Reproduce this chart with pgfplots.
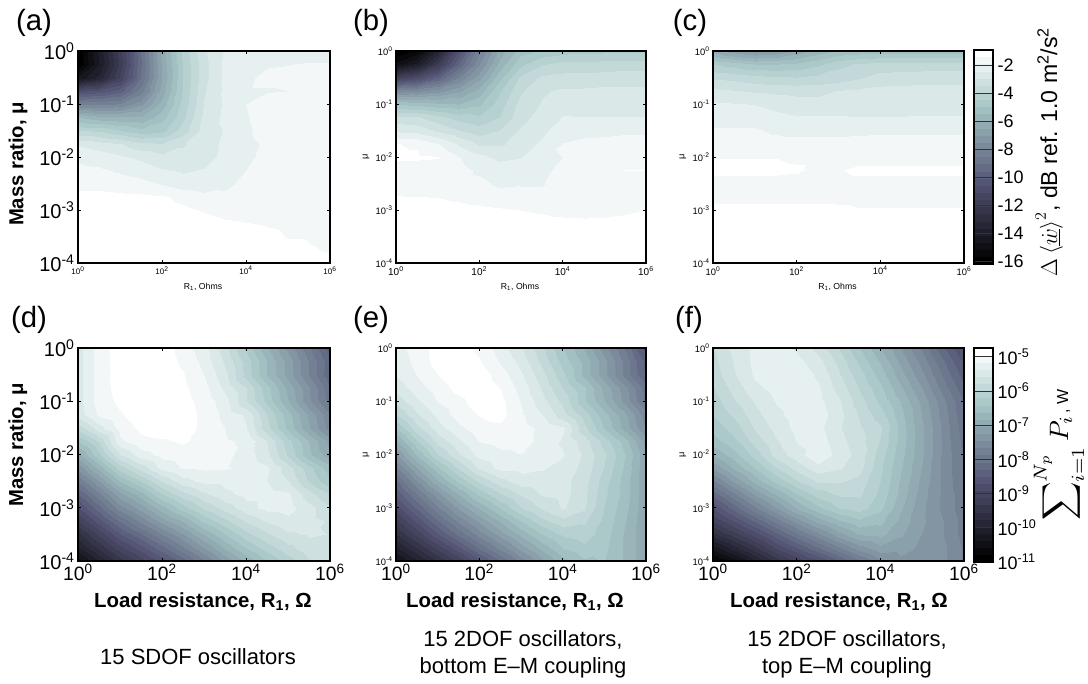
\documentclass[border=0pt]{standalone}
\usepackage{fontspec}
\setmainfont{Liberation Sans}
\usepackage{pgfplots}
\pgfplotsset{compat=1.18}
\pgfplotsset{
  colormap={bone0}{rgb(0cm)=(0,0,0); rgb(3.65cm)=(.3194,.3194,.4444); rgb(7.46cm)=(.6528,.7778,.7778); rgb(10cm)=(1,1,1)},
  colormap={bone30}{samples of colormap={30 of bone0}},
}
\newcommand\fs[1]{\fontsize{#1}{#1}\selectfont}
\newcommand\tp[1]{10\textsuperscript{#1}}
\newcommand\mkcoords[1]{%
  \gdef\mycoords{}%
  \foreach \r [count=\j from 0] in {#1} {%
    \foreach \v [count=\i from 0] in \r {%
      \pgfmathsetmacro\xx{(\i-1+1)*0.5}\pgfmathsetmacro\yy{-(\j)*0.25}%
      \xdef\mycoords{\mycoords (\xx,\yy) [\v]}%
    }%
  }%
}
\newcommand\drawfield{\edef\tmp{\noexpand\addplot[surf,shader=interp,mesh/rows=17,mesh/cols=13,point meta=explicit] coordinates {\mycoords};}\tmp}
\pgfplotsset{
  panel/.style={
    scale only axis, anchor=south west, colormap name=bone30,
    colormap access=piecewise constant,
    xmin=0,xmax=6,ymin=-4,ymax=0,
    xtick={0,2,4,6}, xticklabels={\tp{0},\tp{2},\tp{4},\tp{6}},
    ytick={-4,-3,-2,-1,0}, yticklabels={\tp{-4},\tp{-3},\tp{-2},\tp{-1},\tp{0}},
    tick align=inside, major tick length=2pt, tick style={black,line width=.5pt},
    axis line style={line width=.9pt}, axis on top,
    every x tick label/.append style={yshift=1pt},
    every y tick label/.append style={xshift=1pt},
  },
  dbp/.style={panel,point meta min=-16.2,point meta max=-0.9},
  pwr/.style={panel,point meta min=-11,point meta max=-4.74},
  cbar/.style={
    scale only axis, anchor=south west, colormap name=bone30, colormap access=piecewise constant,
    xmin=0,xmax=1,xtick=\empty, yticklabel pos=right, axis on top,
    tick align=inside, major tick length=0pt, ymajorgrids, grid style={black!80,line width=.7pt},
    axis line style={line width=.9pt},
    every y tick label/.append style={font=\fs{13.5}},
  },
}
\newcommand\ly[3]{ylabel={#1},ylabel style={at={(axis description cs:#2,#3)},anchor=center}}
\begin{document}
\begin{tikzpicture}
\path[use as bounding box] (0,0) rectangle (816pt,512.25pt);

\mkcoords{
{-16.2,-14,-11.8,-9,-6.3,-4.3,-3,-2.35,-2.1,-2.1,-2.05,-2.05,-2.05},
{-16.2,-14.2,-12,-9.1,-6.4,-4.4,-3.1,-2.3,-2,-1.95,-1.93,-1.9,-1.9},
{-14.5,-13.5,-11.5,-9,-6.5,-4.4,-3.1,-2.3,-1.97,-1.85,-1.85,-1.85,-1.85},
{-10.7,-10.4,-9.8,-8.3,-6.3,-4.4,-3,-2.3,-1.95,-1.95,-1.92,-1.75,-1.7},
{-8.2,-8.2,-8,-7.2,-5.8,-4.3,-2.9,-2.35,-1.92,-1.7,-1.6,-1.55,-1.5},
{-5.5,-5.9,-6,-6,-5.2,-4.1,-2.8,-2.3,-1.95,-1.7,-1.6,-1.55,-1.5},
{-3.9,-4,-4.4,-4.8,-4.6,-3.7,-2.7,-2.4,-2,-1.7,-1.6,-1.55,-1.5},
{-2.5,-2.7,-2.9,-3.3,-3.4,-3,-2.6,-2.35,-2.05,-1.85,-1.7,-1.6,-1.55},
{-2,-2.15,-2.35,-2.55,-2.8,-2.75,-2.6,-2.3,-2,-1.8,-1.65,-1.6,-1.55},
{-1.8,-1.85,-2,-2.15,-2.4,-2.5,-2.4,-2.15,-1.92,-1.7,-1.6,-1.55,-1.5},
{-1.55,-1.55,-1.65,-1.75,-1.95,-2.2,-2.25,-2.05,-1.75,-1.65,-1.6,-1.55,-1.5},
{-1.25,-1.25,-1.27,-1.3,-1.33,-1.55,-1.75,-1.8,-1.7,-1.6,-1.55,-1.5,-1.5},
{-1.1,-1.1,-1.1,-1.15,-1.2,-1.3,-1.45,-1.55,-1.6,-1.55,-1.55,-1.5,-1.5},
{-1,-1,-1,-1,-1.05,-1.1,-1.25,-1.35,-1.4,-1.45,-1.5,-1.5,-1.5},
{-1,-1,-1,-1,-1,-1,-1,-1.1,-1.2,-1.3,-1.43,-1.45,-1.5},
{-1,-1,-1,-1,-1,-1,-1,-1,-1,-1.1,-1.2,-1.37,-1.45},
{-1,-1,-1,-1,-1,-1,-1,-1,-1,-1,-1,-1.2,-1.38}}
\begin{axis}[dbp,at={(58.5pt,315pt)},width=189pt,height=159pt,
  x tick label style={font=\fs{6}}, y tick label style={font=\fs{15}},
  xlabel={R\textsubscript{1}, Ohms}, xlabel style={font=\fs{6.5},at={(axis description cs:.496,-.113)},anchor=center},
  \ly{Mass ratio, μ}{-.238}{.467}, ylabel style={font=\fs{15.2}\bfseries}]
\drawfield
\end{axis}

\mkcoords{
{-16.2,-15.5,-13.5,-10.5,-8.2,-6.3,-5.2,-4.9,-4.7,-4.6,-4.6,-4.6,-4.6},
{-15,-14,-12,-9.5,-7.6,-5.8,-4.6,-4,-3.8,-3.8,-3.75,-3.7,-3.7},
{-11.5,-10.8,-9.6,-8,-6.7,-5.1,-3.8,-3.35,-3.25,-3.25,-3.2,-3.2,-3.2},
{-7.8,-7.6,-7.2,-6.6,-5.8,-4.5,-3.5,-3,-2.85,-2.85,-2.8,-2.8,-2.8},
{-5,-5.2,-5.4,-5.5,-5.1,-4.2,-3.25,-2.9,-2.7,-2.7,-2.7,-2.7,-2.7},
{-3.3,-3.4,-3.8,-4.2,-4.4,-3.95,-3.1,-2.75,-2.4,-2.42,-2.42,-2.42,-2.43},
{-2.5,-2.6,-3,-3.4,-3.7,-3.4,-2.85,-2.55,-2.1,-2.05,-2.05,-2,-2},
{-1.4,-1.45,-1.9,-2.5,-3,-3,-2.75,-2.3,-1.9,-1.8,-1.75,-1.7,-1.7},
{-1.35,-1.35,-1.38,-1.9,-2.3,-2.55,-2.45,-1.95,-1.92,-1.65,-1.65,-1.6,-1.6},
{-1.6,-1.6,-1.65,-1.75,-2,-2.2,-2.2,-2.1,-1.7,-1.55,-1.5,-1.4,-1.4},
{-1.7,-1.7,-1.7,-1.75,-1.8,-2,-1.95,-1.95,-1.75,-1.7,-1.65,-1.6,-1.6},
{-1.38,-1.4,-1.42,-1.5,-1.6,-1.7,-1.8,-1.75,-1.7,-1.7,-1.7,-1.7,-1.7},
{-1.2,-1.2,-1.22,-1.25,-1.3,-1.35,-1.42,-1.5,-1.6,-1.6,-1.55,-1.5,-1.41},
{-1.05,-1.05,-1.05,-1.05,-1.05,-1.1,-1.15,-1.2,-1.25,-1.3,-1.3,-1.25,-1.2},
{-1,-1,-1,-1,-1,-1,-1,-1,-1,-1,-1,-1,-1},
{-1,-1,-1,-1,-1,-1,-1,-1,-1,-1,-1,-1,-1},
{-1,-1,-1,-1,-1,-1,-1,-1,-1,-1,-1,-1,-1}}
\begin{axis}[dbp,at={(297pt,315pt)},width=187.5pt,height=159pt,
  x tick label style={font=\fs{7.5}}, y tick label style={font=\fs{7}},
  xlabel={R\textsubscript{1}, Ohms}, xlabel style={font=\fs{6.5},at={(axis description cs:.496,-.113)},anchor=center},
  \ly{μ}{-.12}{.5}, ylabel style={font=\fs{7}}]
\drawfield
\end{axis}

\mkcoords{
{-6.2,-6.8,-7.2,-7,-6.4,-5.8,-5.4,-5.3,-5.2,-5.2,-5.2,-5.2,-5.2},
{-4.5,-4.7,-5,-5,-4.9,-4.6,-4.1,-3.9,-3.8,-3.8,-3.8,-3.8,-3.8},
{-3.5,-3.6,-3.75,-3.85,-3.9,-3.8,-3.7,-3.5,-3.2,-3.15,-3.1,-3.1,-3.1},
{-2.8,-2.9,-3,-3.05,-3.1,-3.1,-2.9,-2.85,-2.8,-2.8,-2.8,-2.8,-2.8},
{-2.35,-2.4,-2.45,-2.6,-2.7,-2.72,-2.72,-2.7,-2.65,-2.6,-2.6,-2.6,-2.6},
{-2.1,-2.1,-2.15,-2.3,-2.4,-2.4,-2.4,-2.42,-2.42,-2.42,-2.4,-2.4,-2.4},
{-1.85,-1.85,-1.85,-2,-2.1,-2.1,-2.1,-2.05,-2,-2,-2,-2,-2},
{-1.7,-1.7,-1.7,-1.7,-1.7,-1.7,-1.7,-1.7,-1.7,-1.7,-1.7,-1.7,-1.7},
{-1.42,-1.42,-1.42,-1.42,-1.5,-1.5,-1.5,-1.6,-1.6,-1.6,-1.6,-1.6,-1.6},
{-1.3,-1.3,-1.3,-1.3,-1.35,-1.55,-1.45,-1.3,-1.3,-1.3,-1.3,-1.3,-1.3},
{-1.6,-1.6,-1.6,-1.6,-1.6,-1.6,-1.6,-1.6,-1.6,-1.6,-1.6,-1.6,-1.6},
{-1.55,-1.55,-1.55,-1.55,-1.55,-1.55,-1.55,-1.55,-1.55,-1.55,-1.55,-1.55,-1.55},
{-1.25,-1.25,-1.25,-1.25,-1.25,-1.25,-1.3,-1.38,-1.38,-1.38,-1.38,-1.38,-1.38},
{-1,-1,-1,-1,-1,-1,-1,-1,-1,-1,-1,-1,-1},
{-1,-1,-1,-1,-1,-1,-1,-1,-1,-1,-1,-1,-1},
{-1,-1,-1,-1,-1,-1,-1,-1,-1,-1,-1,-1,-1},
{-1,-1,-1,-1,-1,-1,-1,-1,-1,-1,-1,-1,-1}}
\begin{axis}[dbp,at={(534.75pt,315pt)},width=188.25pt,height=159pt,
  x tick label style={font=\fs{7}}, y tick label style={font=\fs{7}},
  xlabel={R\textsubscript{1}, Ohms}, xlabel style={font=\fs{6.5},at={(axis description cs:.496,-.113)},anchor=center},
  \ly{μ}{-.12}{.5}, ylabel style={font=\fs{7}}]
\drawfield
\end{axis}

\mkcoords{
{-5.45,-5.05,-4.85,-4.8,-4.8,-5.05,-5.28,-5.7,-6.25,-6.8,-7.3,-7.85,-8.4},
{-5.45,-5.05,-4.85,-4.8,-4.8,-5,-5.23,-5.62,-6.08,-6.63,-7.13,-7.68,-8.23},
{-5.45,-5.05,-4.85,-4.8,-4.8,-4.93,-5.16,-5.52,-6.07,-6.62,-7.12,-7.67,-8.27},
{-5.45,-5.05,-4.87,-4.8,-4.8,-4.9,-5.08,-5.42,-5.78,-6.33,-6.88,-7.43,-8.03},
{-5.45,-5.06,-4.9,-4.8,-4.8,-4.87,-5.03,-5.28,-5.77,-6.27,-6.82,-7.42,-7.97},
{-5.48,-5.12,-4.97,-4.82,-4.8,-4.85,-5,-5.22,-5.4,-5.98,-6.53,-7.08,-7.63},
{-5.9,-5.45,-5.08,-4.9,-4.85,-4.85,-5,-5.16,-5.35,-5.92,-6.47,-7.02,-7.57},
{-6.4,-5.95,-5.2,-5,-4.97,-4.92,-5.02,-5.13,-5.2,-5.58,-6.13,-6.63,-7.13},
{-6.9,-6.25,-5.6,-5.25,-5.1,-5.05,-5.07,-5.1,-5.25,-5.52,-6.02,-6.57,-6.97},
{-7.4,-6.75,-6.1,-5.7,-5.3,-5.14,-5.13,-5.14,-5.2,-5.33,-5.68,-6.13,-6.53},
{-7.85,-7.25,-6.6,-6.2,-5.75,-5.45,-5.3,-5.3,-5.22,-5.37,-5.57,-6.02,-6.37},
{-8.3,-7.7,-7.1,-6.7,-6.2,-5.85,-5.6,-5.42,-5.3,-5.28,-5.32,-5.7,-6},
{-8.75,-8.15,-7.55,-7.15,-6.7,-6.3,-5.95,-5.7,-5.45,-5.3,-5.28,-5.5,-5.75},
{-9.15,-8.6,-8.05,-7.6,-7.15,-6.8,-6.35,-6.05,-5.75,-5.55,-5.42,-5.5,-5.6},
{-9.6,-9.05,-8.5,-8.1,-7.65,-7.25,-6.8,-6.4,-6.05,-5.8,-5.6,-5.55,-5.58},
{-10,-9.5,-9,-8.6,-8.15,-7.7,-7.25,-6.8,-6.4,-6.1,-5.85,-5.65,-5.6},
{-10.5,-9.95,-9.45,-9.05,-8.65,-8.2,-7.7,-7.2,-6.8,-6.4,-6.1,-5.8,-5.65}}
\begin{axis}[pwr,at={(58.5pt,91.5pt)},width=189pt,height=159.75pt,
  x tick label style={font=\fs{14.5}}, y tick label style={font=\fs{15}},
  xlabel={Load resistance, R\textsubscript{1}, Ω}, xlabel style={font=\fs{15.3}\bfseries,at={(axis description cs:.496,-.19)},anchor=center},
  \ly{Mass ratio, μ}{-.239}{.545}, ylabel style={font=\fs{15.2}\bfseries}]
\drawfield
\end{axis}

\mkcoords{
{-5.25,-5.05,-4.85,-4.85,-5,-5.25,-5.55,-5.95,-6.4,-6.85,-7.35,-7.9,-8.6},
{-5.3,-5.08,-4.85,-4.8,-4.93,-5.18,-5.45,-5.85,-6.3,-6.68,-7.18,-7.73,-8.38},
{-5.35,-5.15,-4.95,-4.8,-4.82,-5.05,-5.33,-5.7,-6.15,-6.67,-7.17,-7.72,-8.32},
{-5.5,-5.25,-5.05,-4.87,-4.8,-4.95,-5.24,-5.6,-6,-6.38,-6.88,-7.38,-7.98},
{-5.7,-5.4,-5.14,-5,-4.85,-4.88,-5.17,-5.5,-5.85,-6.37,-6.82,-7.32,-7.92},
{-6,-5.6,-5.3,-5.06,-4.94,-4.87,-5.12,-5.35,-5.7,-6.08,-6.53,-6.98,-7.58},
{-6.4,-5.85,-5.45,-5.2,-5.03,-5,-5.08,-5.2,-5.33,-5.92,-6.42,-6.92,-7.47},
{-6.85,-6.2,-5.7,-5.4,-5.15,-5.1,-5.1,-5.2,-5.4,-5.68,-6.08,-6.53,-7.13},
{-7.3,-6.6,-6,-5.6,-5.3,-5.2,-5.16,-5.25,-5.35,-5.6,-5.95,-6.4,-7},
{-7.7,-7.05,-6.45,-5.95,-5.55,-5.3,-5.3,-5.35,-5.43,-5.65,-6,-6.45,-7},
{-8.1,-7.45,-6.85,-6.35,-5.95,-5.65,-5.45,-5.42,-5.5,-5.7,-6.1,-6.5,-7},
{-8.45,-7.85,-7.3,-6.8,-6.35,-6,-5.75,-5.55,-5.5,-5.72,-6.15,-6.5,-7},
{-8.8,-8.25,-7.7,-7.2,-6.8,-6.4,-6,-5.75,-5.55,-5.75,-6.2,-6.55,-7},
{-9.2,-8.65,-8.1,-7.6,-7.2,-6.8,-6.4,-6.05,-5.85,-5.95,-6.25,-6.6,-7},
{-9.55,-9.05,-8.5,-8,-7.55,-7.15,-6.75,-6.4,-6.15,-6.1,-6.3,-6.65,-7},
{-10,-9.55,-9.05,-8.55,-8.05,-7.6,-7.15,-6.75,-6.4,-6.25,-6.35,-6.65,-7},
{-10.45,-10,-9.55,-9.1,-8.6,-8.1,-7.6,-7.1,-6.7,-6.45,-6.4,-6.65,-7}}
\begin{axis}[pwr,at={(297pt,91.5pt)},width=187.5pt,height=159.75pt,
  x tick label style={font=\fs{14.5}}, y tick label style={font=\fs{7}},
  xlabel={Load resistance, R\textsubscript{1}, Ω}, xlabel style={font=\fs{15.3}\bfseries,at={(axis description cs:.476,-.19)},anchor=center},
  \ly{μ}{-.12}{.5}, ylabel style={font=\fs{7}}]
\drawfield
\end{axis}

\mkcoords{
{-5.8,-5.5,-5.3,-5.25,-5.4,-5.65,-6,-6.4,-6.8,-7.25,-7.7,-8.25,-8.75},
{-5.85,-5.55,-5.3,-5.22,-5.3,-5.5,-5.85,-6.25,-6.65,-7.1,-7.55,-8.05,-8.55},
{-5.9,-5.6,-5.33,-5.22,-5.22,-5.4,-5.75,-6.1,-6.5,-6.95,-7.4,-7.9,-8.4},
{-6,-5.7,-5.42,-5.28,-5.22,-5.33,-5.65,-6,-6.35,-6.8,-7.25,-7.75,-8.25},
{-6.1,-5.8,-5.55,-5.35,-5.25,-5.3,-5.55,-5.9,-6.25,-6.65,-7.1,-7.6,-8.1},
{-6.2,-5.95,-5.65,-5.42,-5.27,-5.25,-5.5,-5.8,-6.1,-6.55,-7.05,-7.55,-8.05},
{-6.35,-6.1,-5.75,-5.5,-5.3,-5.3,-5.55,-5.75,-5.95,-6.5,-7,-7.5,-8},
{-6.5,-6.25,-5.9,-5.6,-5.35,-5.25,-5.5,-5.7,-6,-6.5,-7,-7.5,-7.95},
{-6.8,-6.5,-6.1,-5.7,-5.45,-5.2,-5.45,-5.65,-6.1,-6.55,-7,-7.5,-7.9},
{-7.2,-6.8,-6.4,-6,-5.7,-5.45,-5.55,-5.7,-6.15,-6.6,-7.05,-7.5,-7.9},
{-7.7,-7.2,-6.75,-6.35,-6,-5.75,-5.75,-5.85,-6.2,-6.65,-7.1,-7.5,-7.85},
{-8.2,-7.7,-7.2,-6.8,-6.4,-6.1,-5.95,-5.95,-6.25,-6.7,-7.15,-7.5,-7.8},
{-8.7,-8.2,-7.7,-7.25,-6.8,-6.45,-6.2,-6.1,-6.35,-6.8,-7.2,-7.5,-7.8},
{-9.1,-8.7,-8.25,-7.8,-7.35,-6.95,-6.65,-6.45,-6.55,-6.9,-7.2,-7.45,-7.75},
{-9.6,-9.2,-8.8,-8.35,-7.9,-7.5,-7.1,-6.8,-6.75,-7,-7.25,-7.45,-7.75},
{-10.3,-9.85,-9.4,-8.9,-8.5,-8.1,-7.7,-7.35,-7.1,-7.15,-7.3,-7.4,-7.7},
{-10.9,-10.5,-10,-9.5,-9.1,-8.75,-8.3,-7.9,-7.5,-7.3,-7.3,-7.4,-7.7}}
\begin{axis}[pwr,at={(534.75pt,91.5pt)},width=188.25pt,height=159.75pt,
  x tick label style={font=\fs{14.5}}, y tick label style={font=\fs{7}},
  xlabel={Load resistance, R\textsubscript{1}, Ω}, xlabel style={font=\fs{15.3}\bfseries,at={(axis description cs:.502,-.19)},anchor=center},
  \ly{μ}{-.12}{.5}, ylabel style={font=\fs{7}}]
\drawfield
\end{axis}

\begin{axis}[cbar,at={(730.5pt,314.25pt)},width=14.25pt,height=160.5pt,
  point meta min=-16.2,point meta max=-0.9,ymin=-16.2,ymax=-0.93,
  ytick={-16,-14,-12,-10,-8,-6,-4,-2},yticklabels={-16,-14,-12,-10,-8,-6,-4,-2}]
\addplot[surf,shader=interp,mesh/rows=2,mesh/cols=2,point meta=explicit] coordinates {(0,-16.2) [-16.2] (1,-16.2) [-16.2] (0,-0.93) [-0.93] (1,-0.93) [-0.93]};
\end{axis}
\begin{axis}[cbar,at={(730.5pt,90.75pt)},width=14.25pt,height=160.5pt,
  point meta min=-11,point meta max=-4.74,ymin=-11,ymax=-4.74,
  ytick={-11,-10,-9,-8,-7,-6,-5},yticklabels={\tp{-11},\tp{-10},\tp{-9},\tp{-8},\tp{-7},\tp{-6},\tp{-5}}]
\addplot[surf,shader=interp,mesh/rows=2,mesh/cols=2,point meta=explicit] coordinates {(0,-11) [-11] (1,-11) [-11] (0,-4.74) [-4.74] (1,-4.74) [-4.74]};
\end{axis}

\begin{scope}[x=.75pt,y=.75pt]
\foreach \t/\a/\b in {(a)/34/660,(b)/371/660,(c)/690/660,(d)/29/363,(e)/371/363,(f)/689/363}
  \node[font=\fs{22}] at (\a,\b) {\t};
\node[font=\fs{16.5}] at (198,26) {15 SDOF oscillators};
\node[font=\fs{16.5},align=center] at (523,29) {15 2DOF oscillators,\\[3.75pt]bottom E–M coupling};
\node[font=\fs{16.5},align=center] at (847,29) {15 2DOF oscillators,\\[3.75pt]top E–M coupling};
\node[rotate=90,font=\fs{17.3},anchor=base] at (1057,531) {$\Delta\left\langle\underline{\dot{w}}\right\rangle^{2}$, dB ref. 1.0 m\textsuperscript{2}/s\textsuperscript{2}};
\node[rotate=90,anchor=base] at (1068,228) {\scalebox{2}{$\displaystyle\sum\nolimits_{i=1}^{N_p}P_i$}\hspace{2pt}\fs{12}, W};
\end{scope}
\end{tikzpicture}
\end{document}
